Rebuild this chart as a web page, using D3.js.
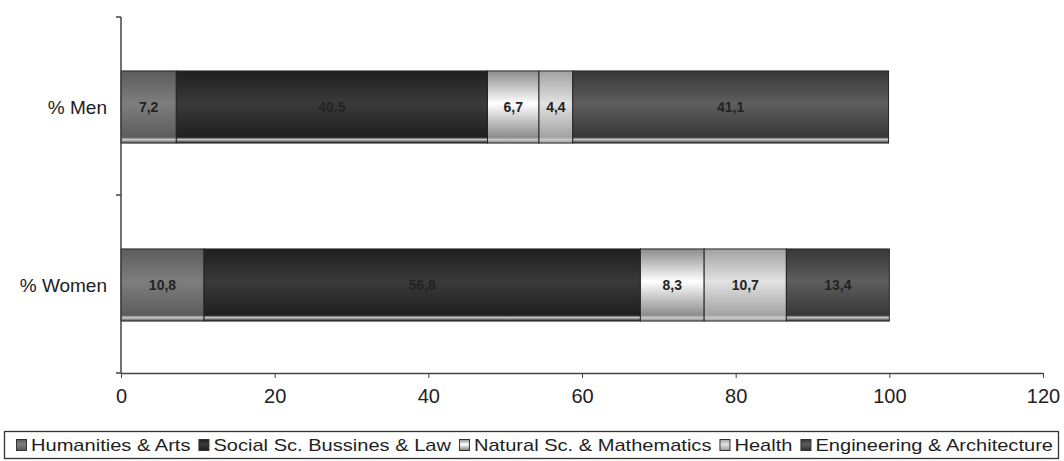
<!DOCTYPE html>
<html>
<head>
<meta charset="utf-8">
<script src="https://cdn.jsdelivr.net/npm/d3@7"></script>
<style>
  body { margin: 0; background: #fff; }
  text { font-family: "Liberation Sans", Arial, sans-serif; }
</style>
</head>
<body>
<div class="chart"></div>
<script>
// groups on the vertical axis (top to bottom)
var groups = ['% Men', '% Women'];
// fields of study, in stacking order
var fields = ['Humanities & Arts', 'Social Sc. Bussines & Law', 'Natural Sc. & Mathematics', 'Health', 'Engineering & Architecture'];
// percentages per field, one value per group
var humanities  = [7.2, 10.8];
var socialSc    = [40.5, 56.8];
var naturalSc   = [6.7, 8.3];
var health      = [4.4, 10.7];
var engineering = [41.1, 13.4];
var xTicks = [0, 20, 40, 60, 80, 100, 120];

var chartOptions = {
  width: 1064,
  height: 461,
  left: 121,
  right: 1043,
  top: 17,
  bottom: 373
}

// grey shades: [edge, centre] for each field's vertical gradient
var shades = [
  ['#5c5c5c', '#7e7e7e'],
  ['#1f1f1f', '#3a3a3a'],
  ['#8c8c8c', '#ffffff'],
  ['#a2a2a2', '#e2e2e2'],
  ['#373737', '#5e5e5e']
];

var seriesValues = [humanities, socialSc, naturalSc, health, engineering];

// build rows for d3.stack
var table = groups.map(function(g, i){
  var row = { group: g };
  fields.forEach(function(f, j){ row[f] = seriesValues[j][i]; });
  return row;
});

var stacked = d3.stack().keys(fields)(table);

var comma = d3.formatLocale({ decimal: ',', thousands: '.', grouping: [3], currency: ['', ''] }).format('.1f');

var svg = d3.select('.chart').append('svg')
            .attr('width', chartOptions.width)
            .attr('height', chartOptions.height);

var x = d3.scaleLinear().domain([0, 120]).range([chartOptions.left, chartOptions.right]);
var y = d3.scaleBand().domain(groups)
          .range([chartOptions.top, chartOptions.bottom])
          .paddingInner(0.595).paddingOuter(0.2975);

// gradients
var defs = svg.append('defs');
shades.forEach(function(s, i){
  var grad = defs.append('linearGradient')
                 .attr('id', 'grad' + i)
                 .attr('x1', 0).attr('y1', 0).attr('x2', 0).attr('y2', 1);
  grad.append('stop').attr('offset', '0%').attr('stop-color', s[0]);
  grad.append('stop').attr('offset', '45%').attr('stop-color', s[1]);
  grad.append('stop').attr('offset', '92%').attr('stop-color', s[0]);
  grad.append('stop').attr('offset', '95%').attr('stop-color', '#c8c8c8');
  grad.append('stop').attr('offset', '100%').attr('stop-color', s[0]);
});

// bars
var layers = svg.selectAll('g.layer')
                .data(stacked)
                .enter()
                .append('g')
                  .attr('class', 'layer')
                  .attr('fill', function(d, i){ return 'url(#grad' + i + ')'; });

layers.selectAll('rect')
      .data(function(d){ return d; })
      .enter()
      .append('rect')
        .attr('x', function(d){ return x(d[0]); })
        .attr('y', function(d){ return y(d.data.group) + 1; })
        .attr('width', function(d){ return x(d[1]) - x(d[0]); })
        .attr('height', y.bandwidth())
        .attr('stroke', '#262626')
        .attr('stroke-width', 1);

// value labels
layers.selectAll('text')
      .data(function(d){ return d; })
      .enter()
      .append('text')
        .attr('x', function(d){ return (x(d[0]) + x(d[1])) / 2; })
        .attr('y', function(d){ return y(d.data.group) + 1 + y.bandwidth() / 2; })
        .attr('dy', '0.36em')
        .attr('text-anchor', 'middle')
        .attr('font-size', 14)
        .attr('font-weight', 'bold')
        .attr('fill', '#232323')
        .text(function(d){ return comma(d[1] - d[0]); });

// x axis
var xAxis = svg.append('g')
               .attr('transform', 'translate(0,' + chartOptions.bottom + ')')
               .call(d3.axisBottom(x).tickValues(xTicks).tickSize(5).tickSizeOuter(0));
xAxis.select('.domain').attr('stroke', '#444').attr('stroke-width', 1.5);
xAxis.selectAll('.tick line').attr('stroke', '#444');
xAxis.selectAll('.tick text')
     .attr('font-size', 20)
     .attr('fill', '#222')
     .attr('y', 16)
     .style('font-family', '"Liberation Sans", Arial, sans-serif');

// y axis: ticks sit on band boundaries
var yAxisG = svg.append('g').attr('transform', 'translate(' + chartOptions.left + ',0)');
yAxisG.append('line')
      .attr('y1', chartOptions.top).attr('y2', chartOptions.bottom)
      .attr('stroke', '#444').attr('stroke-width', 1.5);
var step = y.step();
var boundaries = d3.range(groups.length + 1).map(function(i){ return chartOptions.top + i * (chartOptions.bottom - chartOptions.top) / groups.length; });
yAxisG.selectAll('line.tick')
      .data(boundaries)
      .enter()
      .append('line')
        .attr('class', 'tick')
        .attr('x1', -5).attr('x2', 0)
        .attr('y1', function(d){ return d; }).attr('y2', function(d){ return d; })
        .attr('stroke', '#444').attr('stroke-width', 1.5);
yAxisG.selectAll('text')
      .data(groups)
      .enter()
      .append('text')
        .attr('x', -14)
        .attr('y', function(g){ return y(g) + 1 + y.bandwidth() / 2; })
        .attr('dy', '0.36em')
        .attr('text-anchor', 'end')
        .attr('font-size', 19)
        .attr('fill', '#222')
        .text(function(g){ return g; });

// legend
var legend = svg.append('g');
legend.append('rect')
      .attr('x', 4.5).attr('y', 431.5)
      .attr('width', 1054).attr('height', 27)
      .attr('fill', '#fff').attr('stroke', '#333').attr('stroke-width', 1.3);

var legendStart = 16, legendEnd = 1053, swatch = 10, swatchGap = 5, itemGap = 8;
var items = legend.selectAll('g.item')
                  .data(fields)
                  .enter()
                  .append('g')
                    .attr('class', 'item');
var labels = items.append('text')
                  .attr('y', 451)
                  .attr('font-size', 17)
                  .attr('fill', '#1e1e1e')
                  .text(function(d){ return d; });
var natural = [];
labels.each(function(){ natural.push(this.getComputedTextLength()); });
var room = (legendEnd - legendStart) - fields.length * (swatch + swatchGap) - (fields.length - 1) * itemGap;
var stretch = room / d3.sum(natural);
var cursor = legendStart;
items.each(function(d, i){
  var g = d3.select(this);
  g.insert('rect', 'text')
   .attr('x', cursor + 0.5).attr('y', 439.5)
   .attr('width', swatch).attr('height', 11)
   .attr('fill', 'url(#grad' + i + ')')
   .attr('stroke', '#333');
  var w = natural[i] * stretch;
  g.select('text')
   .attr('x', cursor + swatch + swatchGap)
   .attr('textLength', w)
   .attr('lengthAdjust', 'spacingAndGlyphs');
  cursor += swatch + swatchGap + w + itemGap;
});
</script>
</body>
</html>
